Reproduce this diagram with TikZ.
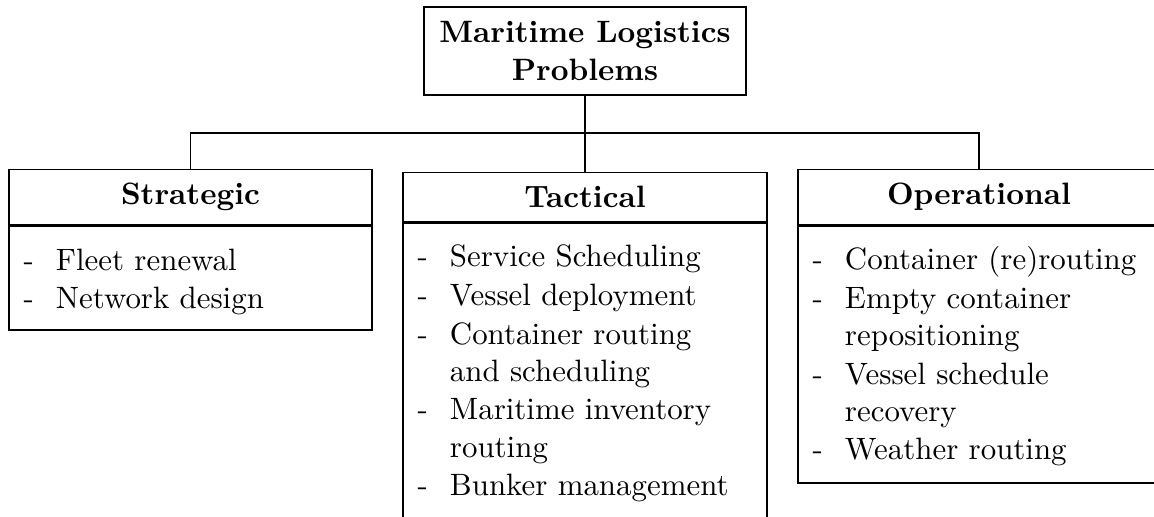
\documentclass[tikz,border=0pt]{standalone}
\usetikzlibrary{calc}
\newcommand\litem[1]{\makebox[10.5pt][l]{-}#1}
\newcommand\lcont[1]{\hspace*{10.5pt}#1}
\begin{document}
\begin{tikzpicture}[x=0.3236pt,y=-0.3236pt,
  line width=0.4pt,
  box/.style={draw, rectangle, inner sep=0pt},
  head/.style={draw, rectangle, inner xsep=0pt, inner ysep=4.5pt, font=\bfseries},
  body/.style={draw, rectangle, anchor=north, inner sep=0pt},
  items/.style={anchor=north west, align=left, inner sep=0pt},
]
\useasboundingbox (0,0) rectangle (1154,516);
\clip (0,0) rectangle (1154,516);
\node[box, font=\bfseries, align=center, minimum width=322*0.3236pt, minimum height=88*0.3236pt] (root) at (585,51) {Maritime Logistics\\Problems};

\node[head, minimum width=363*0.3236pt] (shead) at (190.5,197) {Strategic};
\node[head, minimum width=364*0.3236pt] (thead) at (585,197) {Tactical};
\node[head, minimum width=362*0.3236pt] (ohead) at (979,197) {Operational};

\node[body, minimum width=363*0.3236pt, minimum height=104*0.3236pt] (sbody) at (shead.south) {};
\node[body, minimum width=364*0.3236pt, minimum height=420*0.3236pt] (tbody) at (thead.south) {};
\node[body, minimum width=362*0.3236pt, minimum height=257*0.3236pt] (obody) at (ohead.south) {};

\node[items] (stext) at ($(sbody.north west)+(4.7pt,-5.84pt)$)
  {\strut\litem{Fleet renewal}\\[0.5pt]\litem{Network design}};
\node[items] (ttext) at ($(tbody.north west)+(4.7pt,-5.84pt)$)
  {\strut\litem{Service Scheduling}\\[0.5pt]\litem{Vessel deployment}\\[0.5pt]\litem{Container routing}\\\lcont{and scheduling}\\[0.5pt]\litem{Maritime inventory}\\\lcont{routing}\\[0.5pt]\litem{Bunker management}};
\node[items] (otext) at ($(obody.north west)+(4.7pt,-5.84pt)$)
  {\strut\litem{Container (re)routing}\\[0.5pt]\litem{Empty container}\\\lcont{repositioning}\\[0.5pt]\litem{Vessel schedule}\\\lcont{recovery}\\[0.5pt]\litem{Weather routing}};

\coordinate (bar) at (585,133);
\draw (root.south) -- (bar);
\draw (shead.north) |- (bar) -| (ohead.north);
\draw (bar) -- (thead.north);
\end{tikzpicture}
\end{document}
